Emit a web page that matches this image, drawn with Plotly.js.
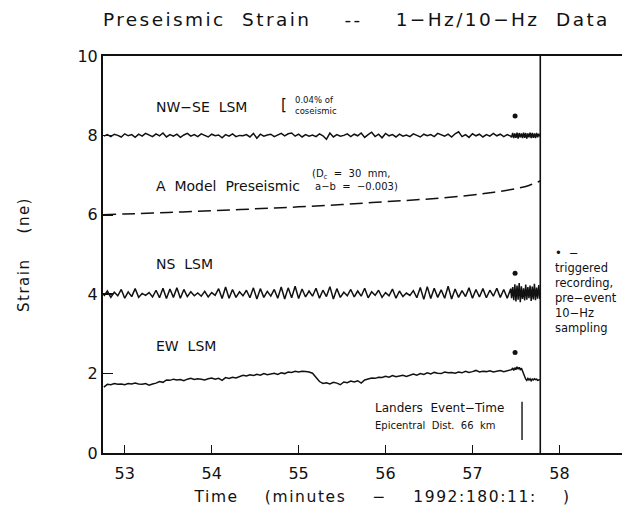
<!DOCTYPE html>
<html>
<head>
<meta charset="utf-8">
<script src="https://cdn.plot.ly/plotly-3.0.1.min.js"></script>
<style>
html,body{margin:0;padding:0;background:#fff;}
#chart{width:622px;height:506px;}
.gtitle{letter-spacing:2.4px;}
.ytitle{letter-spacing:1.5px;}
.annotation[data-index="11"] text{letter-spacing:1.6px;}
</style>
</head>
<body>
<div id="chart"></div>
<script>
// ---- 1-Hz sampling times (minutes after 1992:180:11:) ----
const time1Hz = [
 52.76,52.80,52.84,52.88,52.92,52.96,53.00,53.04,53.08,53.12,
 53.16,53.20,53.24,53.28,53.32,53.36,53.40,53.44,53.48,53.52,
 53.56,53.60,53.64,53.68,53.72,53.76,53.80,53.84,53.88,53.92,
 53.96,54.00,54.04,54.08,54.12,54.16,54.20,54.24,54.28,54.32,
 54.36,54.40,54.44,54.48,54.52,54.56,54.60,54.64,54.68,54.72,
 54.76,54.80,54.84,54.88,54.92,54.96,55.00,55.04,55.08,55.12,
 55.16,55.20,55.24,55.28,55.32,55.36,55.40,55.44,55.48,55.52,
 55.56,55.60,55.64,55.68,55.72,55.76,55.80,55.84,55.88,55.92,
 55.96,56.00,56.04,56.08,56.12,56.16,56.20,56.24,56.28,56.32,
 56.36,56.40,56.44,56.48,56.52,56.56,56.60,56.64,56.68,56.72,
 56.76,56.80,56.84,56.88,56.92,56.96,57.00,57.04,57.08,57.12,
 57.16,57.20,57.24,57.28,57.32,57.36,57.40,57.44
];
// ---- 10-Hz triggered (pre-event) sampling times ----
const time10Hz = [
 57.4500,57.4625,57.4750,57.4875,57.5000,57.5125,57.5250,57.5375,57.5500,
 57.5625,57.5750,57.5875,57.6000,57.6125,57.6250,57.6375,57.6500,57.6625,
 57.6750,57.6875,57.7000,57.7125,57.7250,57.7375,57.7500,57.7625,57.7750
];

const nwse1Hz = [
 7.98,8.02,7.97,8.03,8.00,7.96,8.04,7.99,8.02,7.95,
 8.03,7.98,8.05,8.00,7.97,8.04,7.99,8.06,7.96,8.02,
 7.98,8.03,7.95,8.01,8.05,7.98,8.02,7.97,8.04,8.00,
 7.96,8.03,7.99,8.01,7.94,8.02,7.98,8.04,7.97,8.00,
 7.99,8.02,7.96,8.05,7.93,8.03,7.98,8.01,8.03,7.97,
 8.02,8.05,7.99,8.04,8.06,7.98,8.03,7.96,8.02,7.98,
 8.01,7.97,8.04,7.99,7.90,8.06,7.96,8.02,7.98,8.00,
 8.04,7.97,8.03,7.99,8.06,7.95,8.02,8.08,7.97,8.03,
 7.94,8.05,7.99,8.02,7.96,8.03,7.98,8.01,7.97,8.04,
 8.00,7.96,8.03,7.99,8.02,7.97,8.05,8.01,7.98,8.03,
 7.96,8.04,8.09,7.97,8.02,7.95,8.04,7.99,8.03,7.96,
 8.02,7.98,8.05,7.99,8.03,7.97,8.02,7.98
];
const nwse10Hz = [
 7.95,8.06,7.93,8.05,7.94,8.07,7.92,8.06,7.95,8.05,7.93,8.07,7.94,8.06,
 7.92,8.05,7.95,8.07,7.93,8.06,7.94,8.05,7.93,8.06,7.95,8.04,7.97
];

const ns1Hz = [
 3.95,4.08,3.92,4.05,3.96,4.12,3.90,4.06,3.94,4.14,
 3.92,4.02,3.97,4.04,3.93,4.10,3.91,4.15,3.89,4.13,
 3.92,4.16,3.90,4.12,3.94,4.06,3.96,4.03,3.95,4.07,
 3.93,4.04,3.97,4.14,3.89,4.18,3.90,4.12,3.92,4.06,
 3.96,4.10,3.91,4.16,3.88,4.14,3.92,4.07,3.95,4.12,
 3.90,4.18,3.88,4.16,3.91,4.20,3.89,4.13,3.93,4.08,
 3.95,4.15,3.90,4.10,3.94,4.19,3.88,4.14,3.92,4.05,
 3.96,4.12,3.93,4.08,3.95,4.15,3.91,4.06,3.97,4.10,
 3.92,4.04,3.96,4.13,3.90,4.08,3.94,4.03,3.97,4.09,
 3.91,4.17,3.87,4.19,3.89,4.15,3.92,4.11,3.90,4.20,
 3.88,4.13,3.92,4.09,3.94,4.16,3.90,4.12,3.93,4.14,
 3.91,4.10,3.95,4.15,3.92,4.12,3.90,4.14
];
const ns10Hz = [
 3.90,4.18,3.85,4.25,3.82,4.22,3.86,4.28,3.80,4.20,3.88,4.15,3.84,4.24,
 3.86,4.18,3.90,4.22,3.83,4.19,3.87,4.26,3.85,4.17,3.89,4.23,3.88
];

const ew1Hz = [
 1.66,1.73,1.72,1.75,1.73,1.74,1.72,1.75,1.74,1.76,
 1.74,1.73,1.75,1.71,1.74,1.76,1.80,1.78,1.84,1.83,
 1.86,1.84,1.85,1.82,1.86,1.88,1.85,1.87,1.86,1.84,
 1.87,1.89,1.86,1.88,1.83,1.90,1.88,1.91,1.89,1.92,
 1.96,1.94,1.97,1.95,1.98,1.96,2.00,1.97,1.99,2.01,
 1.98,2.02,2.00,2.04,2.03,2.06,2.04,2.06,2.05,2.04,
 2.01,1.90,1.80,1.75,1.77,1.74,1.78,1.76,1.72,1.79,
 1.77,1.81,1.79,1.82,1.76,1.84,1.86,1.89,1.88,1.91,
 1.90,1.93,1.91,1.95,1.92,1.94,1.96,1.93,1.97,1.99,
 1.96,2.00,1.98,2.02,1.99,2.03,2.01,2.00,2.04,2.02,
 2.03,2.01,2.04,2.02,2.06,2.03,2.05,2.08,2.04,2.06,
 2.05,2.07,2.04,2.06,2.08,2.05,2.07,2.09
];
const ew10Hz = [
 2.10,2.14,2.08,2.15,2.10,2.17,2.11,2.16,2.09,2.14,2.06,1.98,1.90,1.86,
 1.83,1.88,1.84,1.87,1.82,1.86,1.84,1.87,1.85,1.86,1.83,1.85,1.85
];

// ---- model preseismic curve ----
const modelTime = [52.75,53.0,53.5,54.0,54.5,55.0,55.5,56.0,56.5,57.0,57.25,57.5,57.65,57.78];
const modelStrain = [6.00,6.02,6.06,6.10,6.15,6.20,6.26,6.33,6.40,6.50,6.57,6.66,6.74,6.85];

// ---- triggered-recording dots ----
const trigTime = [57.49,57.49,57.49];
const trigStrain = [8.49,4.53,2.53];

// ---- event-time lines ----
const eventTime = [57.78,57.78];
const eventSpan = [0,10];
const landersMarkTime = [57.57,57.57];
const landersMarkSpan = [0.33,1.29];

const xTicks = [53,54,55,56,57,58];
const yTicks = [0,2,4,6,8,10];

const blk = '#111';
function joined(a,b){return a.concat(b);}

const traces = [
 {x: joined(time1Hz,time10Hz), y: joined(nwse1Hz,nwse10Hz), mode:'lines', name:'NW-SE LSM',
  line:{color:blk,width:1.5}},
 {x: joined(time1Hz,time10Hz), y: joined(ns1Hz,ns10Hz), mode:'lines', name:'NS LSM',
  line:{color:blk,width:1.5}},
 {x: joined(time1Hz,time10Hz), y: joined(ew1Hz,ew10Hz), mode:'lines', name:'EW LSM',
  line:{color:blk,width:1.5}},
 {x: modelTime, y: modelStrain, mode:'lines', name:'A Model Preseismic',
  line:{color:blk,width:1.5,dash:'13px,6px',shape:'spline'}},
 {x: trigTime, y: trigStrain, mode:'markers', name:'triggered',
  marker:{color:blk,size:5}},
 {x: eventTime, y: eventSpan, mode:'lines', name:'event', line:{color:blk,width:1.6}},
 {x: landersMarkTime, y: landersMarkSpan, mode:'lines', name:'Landers', line:{color:blk,width:1.4}}
];

const ff = 'DejaVu Sans, Arial, sans-serif';
function ann(x,y,text,size,extra){
  return Object.assign({x:x,y:y,xref:'x',yref:'y',text:text,showarrow:false,
    xanchor:'left',yanchor:'middle',font:{family:ff,size:size,color:blk}},extra||{});
}

const annotations = [
 ann(53.34,8.72,'NW\u2212SE  LSM',14),
 ann(54.78,8.77,'[',15),
 ann(54.93,8.76,'0.04% of<br>coseismic',8.5,{align:'left'}),
 ann(53.34,6.73,'A  Model  Preseismic',14),
 ann(55.13,7.01,'(D<sub>c</sub>  =  30  mm,',10),
 ann(55.17,6.71,'a\u2212b  =  \u22120.003)',10),
 ann(53.34,4.75,'NS  LSM',14),
 ann(53.34,2.70,'EW  LSM',14),
 ann(55.85,1.13,'Landers  Event\u2212Time',12),
 ann(55.85,0.70,'Epicentral  Dist.  66  km',10),
 ann(57.93,4.10,'\u2022  \u2212<br>triggered<br>recording,<br>pre\u2212event<br>10\u2212Hz<br>sampling',11.5,
   {align:'left',yanchor:'middle'}),
 // x-axis title, placed to match the original's offset
 {x:0.5376, y:-0.111, xref:'paper', yref:'paper', xanchor:'center', yanchor:'middle',
  showarrow:false, text:'Time    (minutes    \u2212    1992:180:11:    )',
  font:{family:ff,size:15.5,color:blk}}
];

const layout = {
 width:622, height:506,
 margin:{l:103,r:0,t:56,b:53},
 paper_bgcolor:'#fff', plot_bgcolor:'#fff',
 showlegend:false,
 font:{family:ff,color:blk},
 title:{text:'Preseismic  Strain    --    1\u2212Hz/10\u2212Hz  Data',
   font:{family:ff,size:18.5,color:blk},
   x:0.573, xref:'container', xanchor:'center', y:0.962, yref:'container', yanchor:'middle'},
 xaxis:{range:[52.75,58.72], tickvals:xTicks, ticktext:xTicks.map(String),
   showline:true, linewidth:2, linecolor:blk, mirror:true,
   ticks:'inside', ticklen:8, tickwidth:1.5, tickcolor:blk,
   showgrid:false, zeroline:false, ticklabelstandoff:5,
   tickfont:{family:ff,size:16,color:blk}},
 yaxis:{range:[0,10], tickvals:yTicks, ticktext:yTicks.map(String),
   showline:true, linewidth:2, linecolor:blk, mirror:false,
   ticks:'inside', ticklen:10, tickwidth:1.5, tickcolor:blk,
   showgrid:false, zeroline:false,
   tickfont:{family:ff,size:16,color:blk},
   title:{text:'Strain    (ne)', standoff:44, font:{family:ff,size:15,color:blk}}},
 annotations: annotations
};

Plotly.newPlot('chart', traces, layout, {staticPlot:true, displayModeBar:false});
</script>
</body>
</html>
